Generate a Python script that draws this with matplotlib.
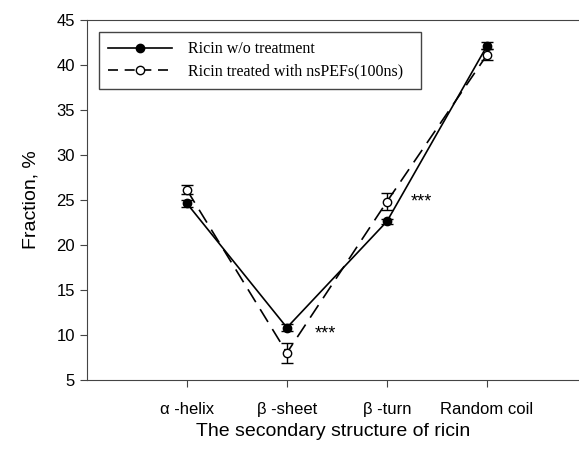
import matplotlib.pyplot as plt
from matplotlib.lines import Line2D

# secondary structure categories
categories = ['\u03b1 -helix', '\u03b2 -sheet', '\u03b2 -turn', 'Random coil']
xpos = [1, 2, 3, 4]

# fraction (%) and error bars
control = [24.6, 10.8, 22.6, 42.1]
control_err = [0.4, 0.4, 0.3, 0.4]
treated = [26.1, 8.0, 24.8, 41.1]
treated_err = [0.5, 1.1, 0.9, 0.6]

# significance marks (x, y)
sig_x = [2.38, 3.34]
sig_y = [10.1, 24.8]

plt.rcParams['font.family'] = ['Liberation Sans', 'DejaVu Sans']

fig = plt.figure(figsize=(5.79, 4.5), dpi=100)
ax = fig.add_axes([0.150, 0.156, 0.85, 0.800])

dash = (0, (9, 5))
ax.errorbar(xpos, control, yerr=control_err, fmt='-o', color='black',
            mfc='black', mec='black', ms=6, lw=1.2, capsize=4, elinewidth=1, zorder=3)
ax.errorbar(xpos, treated, yerr=treated_err, fmt='o', ls=dash, color='black',
            mfc='white', mec='black', ms=6, lw=1.2, capsize=4, elinewidth=1, zorder=3)

for x, y in zip(sig_x, sig_y):
    ax.text(x, y, '***', ha='center', va='center', fontsize=13)

ax.set_xlim(0, 4.92)
ax.set_ylim(5, 45)
ax.set_xticks(xpos)
ax.set_xticklabels(categories)
ax.set_yticks(range(5, 50, 5))
ax.tick_params(direction='out', length=5, labelsize=12, color='#444444')
ax.tick_params(axis='x', pad=11)
ax.spines['right'].set_visible(False)
for s in ['left', 'bottom', 'top']:
    ax.spines[s].set_color('#444444')
ax.set_ylabel('Fraction, %', fontsize=14, labelpad=12)
ax.set_xlabel('The secondary structure of ricin', fontsize=14, labelpad=4)

handles = [
    Line2D([], [], color='black', lw=1.2, marker='o', ms=6, mfc='black'),
    Line2D([], [], color='black', lw=1.2, ls=(0, (6, 4)), marker='o', ms=6, mfc='white'),
]
labels = ['Ricin w/o treatment', 'Ricin treated with nsPEFs(100ns)  ']
leg = ax.legend(handles, labels, loc='upper left', bbox_to_anchor=(0.024, 0.967),
                borderaxespad=0, fancybox=False, edgecolor='#444444', framealpha=1,
                prop={'family': 'Liberation Serif', 'size': 11.5},
                handlelength=4.0, handletextpad=1.0, borderpad=0.6, labelspacing=0.4)
leg.get_frame().set_linewidth(1)

plt.savefig('out.png', dpi=100)
